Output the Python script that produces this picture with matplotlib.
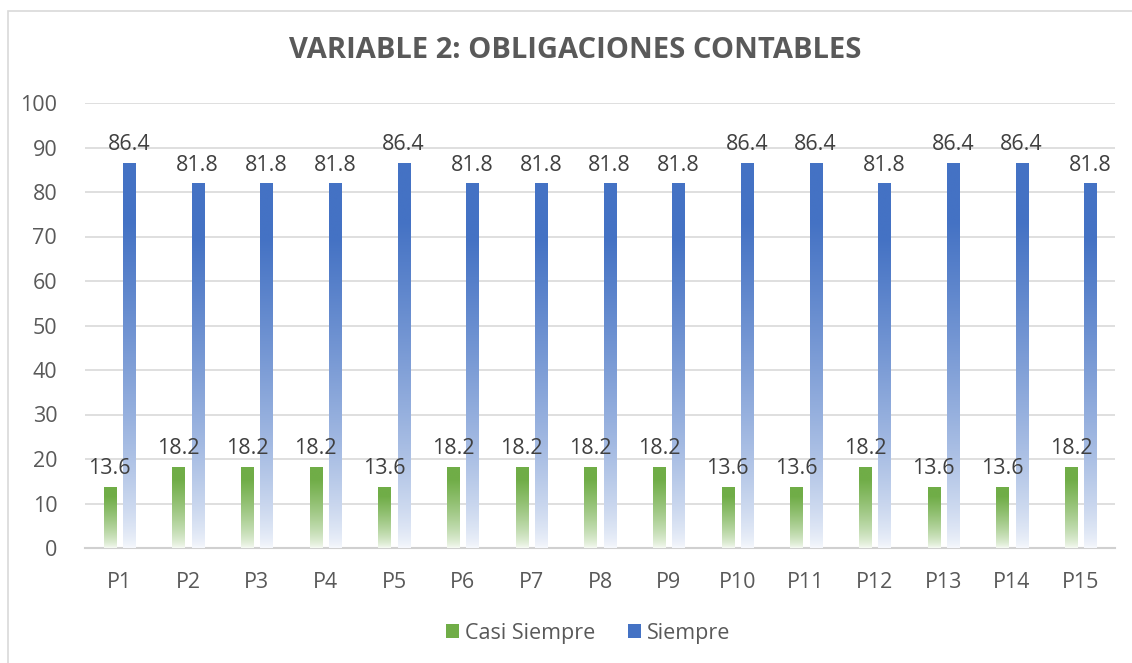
import numpy as np
import matplotlib.pyplot as plt
from matplotlib.colors import to_rgb
from matplotlib.patches import Rectangle

categories = ["P%d" % i for i in range(1, 16)]
casi_siempre = [13.6, 18.2, 18.2, 18.2, 13.6, 18.2, 18.2, 18.2, 18.2, 13.6, 13.6, 18.2, 13.6, 13.6, 18.2]
siempre = [86.4, 81.8, 81.8, 81.8, 86.4, 81.8, 81.8, 81.8, 81.8, 86.4, 86.4, 81.8, 86.4, 86.4, 81.8]
series_names = ["Casi Siempre", "Siempre"]
colors = ["#70AD47", "#4472C4"]

plt.rcParams['font.family'] = ['Open Sans', 'DejaVu Sans']
txt = "#595959"

fig = plt.figure(figsize=(11.32, 6.63), dpi=100)
ax = fig.add_axes([85 / 1132, 1 - 548 / 663, 1030 / 1132, 445 / 663])

# chart border (only top and left visible)
fig.add_artist(Rectangle((8 / 1132, -0.1), 1.2, 1 - 11 / 663 + 0.1, transform=fig.transFigure,
                         fill=False, edgecolor="#D9D9D9", linewidth=1.2))


def gradient(color, n=256):
    c = np.array(to_rgb(color))
    t = np.linspace(0, 1, n)[:, None]  # 0 bottom, 1 top
    w = np.clip(t / 0.85, 0, 1) ** 0.7
    low = 0.05
    mix = low + (1 - low) * w
    rgb = c * mix + (1 - mix) * np.array([1, 1, 1])
    return rgb[:, None, :]


x = np.arange(len(categories))
bw = 0.175
offsets = [-0.14, 0.14]
for vals, col, off in zip([casi_siempre, siempre], colors, offsets):
    img = gradient(col)
    for xi, v in zip(x, vals):
        ax.imshow(img, extent=(xi + off - bw / 2, xi + off + bw / 2, 0, v),
                  origin="lower", aspect="auto", zorder=3, interpolation="bilinear")
        ax.annotate("%.1f" % v, (xi + off, v), xytext=(0, 6), textcoords="offset points",
                    ha="center", va="bottom", fontsize=15.5, color="#404040", zorder=4)

ax.set_xlim(-0.5, len(categories) - 0.5)
ax.set_ylim(0, 100)
ax.set_yticks(range(0, 101, 10))
ax.set_xticks(x)
ax.set_xticklabels(categories)
ax.tick_params(axis="both", length=0, labelsize=15.5, labelcolor=txt)
ax.tick_params(axis="x", pad=17)
ax.tick_params(axis="y", pad=20)
ax.grid(axis="y", color="#D9D9D9", linewidth=1.2, zorder=0)
ax.set_axisbelow(True)
for s in ["top", "right", "left"]:
    ax.spines[s].set_visible(False)
ax.spines["bottom"].set_color("#D0D0D0")
ax.spines["bottom"].set_linewidth(1.5)

fig.text(575 / 1132, 1 - 50 / 663, "VARIABLE 2: OBLIGACIONES CONTABLES", ha="center", va="center",
         fontsize=21, fontweight="bold", color=txt)

handles = [Rectangle((0, 0), 1, 1, facecolor=c) for c in colors]
fig.legend(handles, series_names, loc="center", bbox_to_anchor=(588 / 1132, 1 - 633 / 663),
           ncol=2, frameon=False, fontsize=15.5, labelcolor=txt, handlelength=0.6, handleheight=0.6,
           columnspacing=1.5, handletextpad=0.3)

fig.savefig("out.png", dpi=100)
